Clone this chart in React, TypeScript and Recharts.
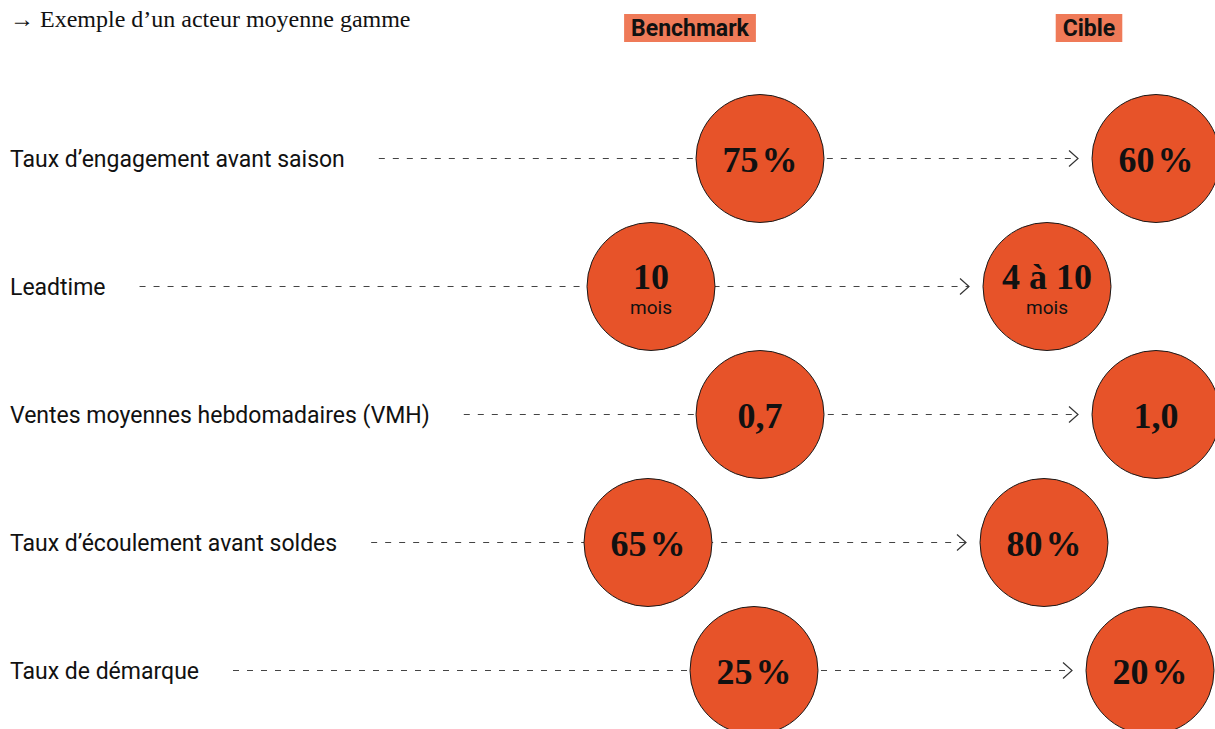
import React from 'react';
import { ScatterChart, Scatter, XAxis, YAxis, ReferenceLine } from 'recharts';

// ---------- data ----------
const titleText = '→ Exemple d’un acteur moyenne gamme';
const seriesNames = ['Benchmark', 'Cible'];
const categories = [
  'Taux d’engagement avant saison',
  'Leadtime',
  'Ventes moyennes hebdomadaires (VMH)',
  'Taux d’écoulement avant soldes',
  'Taux de démarque',
];
const benchmarkValues = ['75 %', '10', '0,7', '65 %', '25 %'];
const cibleValues = ['60 %', '4 à 10', '1,0', '80 %', '20 %'];
const valueUnits = ['', 'mois', '', '', ''];

// ---------- layout ----------
const W = 1215;
const H = 729;
const ROW0_PX = 158.5;
const ROW_STEP = 128;
const Y_MIN = -ROW0_PX / ROW_STEP;
const Y_MAX = Y_MIN + H / ROW_STEP;
const rowFromPx = (px: number) => Y_MIN + px / ROW_STEP;

const R = 64;
const BENCH_X = 760;
const CIBLE_X = 1156;
const rowShift = [0, -109, 0, -112, -6];
const HEADER_X = [690, 1089];
const LABEL_X = 10;
const ARROW_GAP = 14;

const CIRCLE = '#E75329';
const HEADER_BG = '#EF7A58';
const LABEL_FONT = 'Roboto, sans-serif';
const LABEL_SIZE = 23;

let ctx: CanvasRenderingContext2D | null = null;
const measure = (text: string, font: string) => {
  if (!ctx) ctx = document.createElement('canvas').getContext('2d');
  if (!ctx) return text.length * 10;
  ctx.font = font;
  return ctx.measureText(text).width;
};

const labelData = categories.map((c, i) => ({ x: LABEL_X, y: i, label: c }));
const benchData = categories.map((c, i) => ({
  x: BENCH_X + rowShift[i],
  y: i,
  value: benchmarkValues[i],
  unit: valueUnits[i],
}));
const cibleData = categories.map((c, i) => ({
  x: CIBLE_X + rowShift[i],
  y: i,
  value: cibleValues[i],
  unit: valueUnits[i],
}));
const headerData = seriesNames.map((n, k) => ({ x: HEADER_X[k], y: rowFromPx(28), name: n }));
const titleData = [{ x: LABEL_X, y: rowFromPx(20), name: titleText }];

const segments = categories.map((c, i) => {
  const w = measure(c, `${LABEL_SIZE}px Roboto`);
  return {
    start: LABEL_X + w + 34,
    end: CIBLE_X + rowShift[i] - R - ARROW_GAP,
    y: i,
  };
});

const LabelShape = (props: any) => {
  const { cx, cy, payload } = props;
  return (
    <text x={cx} y={cy + 8} fontFamily={LABEL_FONT} fontSize={LABEL_SIZE} fill="#111">
      {payload.label}
    </text>
  );
};

const ValueText = ({ value }: { value: string }) => {
  if (value.endsWith('%')) {
    const num = value.slice(0, -1).trim();
    return (
      <>
        {num}
        <tspan dx={3}>%</tspan>
      </>
    );
  }
  return <>{value}</>;
};

const Bubble = (props: any, arrow: boolean) => {
  const { cx, cy, payload } = props;
  const hasUnit = !!payload.unit;
  const tip = cx - R - ARROW_GAP;
  return (
    <g>
      {arrow && (
        <path
          d={`M${tip - 9},${cy - 8} L${tip},${cy} L${tip - 9},${cy + 8}`}
          fill="none"
          stroke="#333"
          strokeWidth={1.2}
        />
      )}
      <circle cx={cx} cy={cy} r={R} fill={CIRCLE} stroke="#1a1a1a" strokeWidth={1} />
      <text
        x={cx}
        y={hasUnit ? cy + 2 : cy + 13}
        textAnchor="middle"
        fontFamily="'Liberation Serif', serif"
        fontWeight={700}
        fontSize={36}
        fill="#111"
      >
        <ValueText value={payload.value} />
      </text>
      {hasUnit && (
        <text x={cx} y={cy + 27} textAnchor="middle" fontFamily={LABEL_FONT} fontSize={19} fill="#111">
          {payload.unit}
        </text>
      )}
    </g>
  );
};

const HeaderShape = (props: any) => {
  const { cx, cy, payload } = props;
  const w = measure(payload.name, 'bold 23px Roboto');
  const bw = w + 14;
  return (
    <g>
      <rect x={cx - bw / 2} y={cy - 14} width={bw} height={28} fill={HEADER_BG} />
      <text
        x={cx}
        y={cy + 8}
        textAnchor="middle"
        fontFamily={LABEL_FONT}
        fontWeight={700}
        fontSize={23}
        fill="#111"
      >
        {payload.name}
      </text>
    </g>
  );
};

const TitleShape = (props: any) => {
  const { cx, cy, payload } = props;
  return (
    <text x={cx} y={cy + 7} fontFamily="'Liberation Serif', serif" fontSize={24} fill="#111">
      {payload.name}
    </text>
  );
};

export default function App() {
  return (
    <div style={{ position: 'absolute', left: 0, top: 0, width: W, height: H, background: '#fff' }}>
      <ScatterChart width={W} height={H} margin={{ top: 0, right: 0, bottom: 0, left: 0 }}>
        <XAxis type="number" dataKey="x" domain={[0, W]} hide />
        <YAxis type="number" dataKey="y" domain={[Y_MIN, Y_MAX]} reversed hide />
        {segments.map((s, i) => (
          <ReferenceLine
            key={i}
            segment={[
              { x: s.start, y: s.y },
              { x: s.end, y: s.y },
            ]}
            stroke="#444"
            strokeWidth={1}
            strokeDasharray="6 8"
            ifOverflow="visible"
          />
        ))}
        <Scatter data={titleData} shape={TitleShape} isAnimationActive={false} />
        <Scatter data={headerData} shape={HeaderShape} isAnimationActive={false} />
        <Scatter data={labelData} shape={LabelShape} isAnimationActive={false} />
        <Scatter data={benchData} shape={(p: any) => Bubble(p, false)} isAnimationActive={false} />
        <Scatter data={cibleData} shape={(p: any) => Bubble(p, true)} isAnimationActive={false} />
      </ScatterChart>
    </div>
  );
}
